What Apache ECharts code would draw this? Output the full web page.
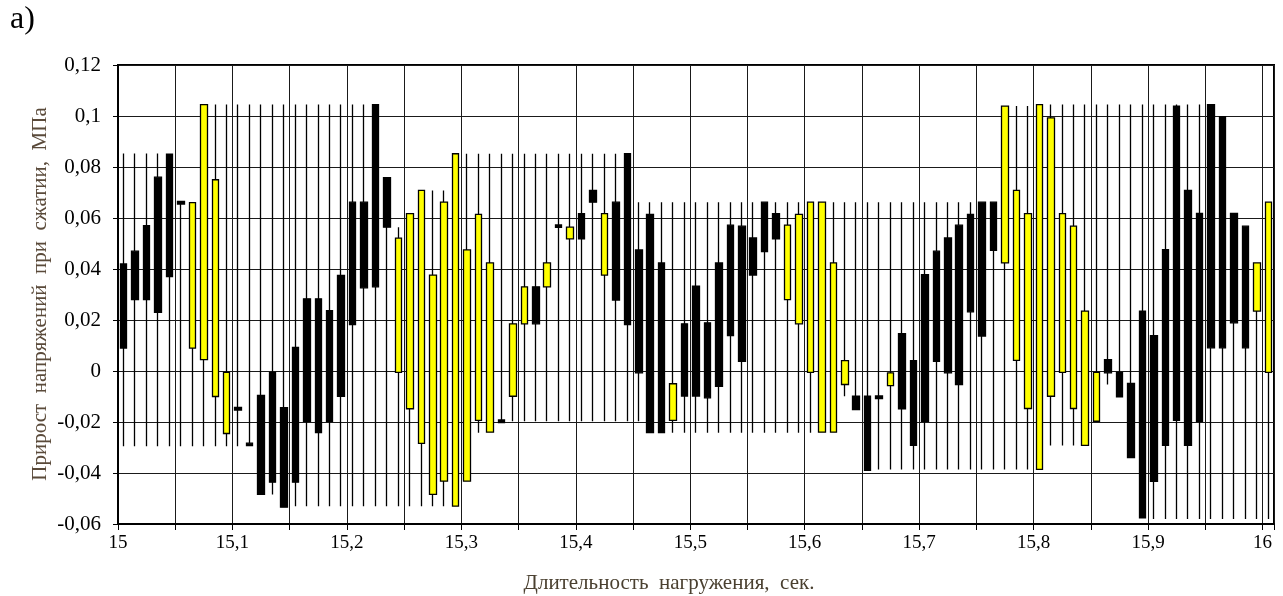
<!DOCTYPE html>
<html>
<head>
<meta charset="utf-8">
<script src="https://cdn.jsdelivr.net/npm/echarts@6/dist/echarts.min.js"></script>
<style>
  html, body { margin: 0; padding: 0; background: #fff; }
  #chart { width: 1283px; height: 596px; }
</style>
</head>
<body>
<div id="chart"></div>
<script>
// Loading time, s (one candle per 0.01 s)
const times = [
  15.00, 15.01, 15.02, 15.03, 15.04, 15.05, 15.06, 15.07, 15.08, 15.09,
  15.10, 15.11, 15.12, 15.13, 15.14, 15.15, 15.16, 15.17, 15.18, 15.19,
  15.20, 15.21, 15.22, 15.23, 15.24, 15.25, 15.26, 15.27, 15.28, 15.29,
  15.30, 15.31, 15.32, 15.33, 15.34, 15.35, 15.36, 15.37, 15.38, 15.39,
  15.40, 15.41, 15.42, 15.43, 15.44, 15.45, 15.46, 15.47, 15.48, 15.49,
  15.50, 15.51, 15.52, 15.53, 15.54, 15.55, 15.56, 15.57, 15.58, 15.59,
  15.60, 15.61, 15.62, 15.63, 15.64, 15.65, 15.66, 15.67, 15.68, 15.69,
  15.70, 15.71, 15.72, 15.73, 15.74, 15.75, 15.76, 15.77, 15.78, 15.79,
  15.80, 15.81, 15.82, 15.83, 15.84, 15.85, 15.86, 15.87, 15.88, 15.89,
  15.90, 15.91, 15.92, 15.93, 15.94, 15.95, 15.96, 15.97, 15.98, 15.99,
  16.00
];

// Stress increment, MPa
const opens = [
  0.042, 0.047, 0.057, 0.076, 0.085, 0.0665, 0.009, 0.0045, -0.010, -0.0245,
  -0.0143, -0.0283, -0.0096, -0.0005, -0.0144, 0.0093, 0.0283, 0.0283, 0.0237, 0.0375,
  0.0662, 0.0662, 0.1045, 0.0758, -0.0005, -0.0148, -0.0284, -0.0484, -0.0432, -0.053,
  -0.0432, -0.0194, -0.024, -0.0192, -0.0099, 0.0185, 0.033, 0.033, 0.0573, 0.0518,
  0.0617, 0.0708, 0.0376, 0.0662, 0.0852, 0.0475, 0.0614, 0.0424, -0.0194, 0.0185,
  0.0333, 0.0189, 0.0424, 0.0572, 0.0568, 0.0522, 0.0662, 0.0617, 0.028, 0.0185,
  -0.0005, -0.024, -0.024, -0.0053, -0.0099, -0.0099, -0.0098, -0.0057, 0.0146, 0.0041,
  0.0378, 0.047, 0.0522, 0.0572, 0.0614, 0.0662, 0.0662, 0.0424, 0.0042, -0.0147,
  -0.0386, -0.0099, -0.0005, -0.0147, -0.0292, -0.0197, 0.0045, -0.0005, -0.0049, 0.0235,
  0.0139, 0.0476, 0.1039, 0.0708, 0.0618, 0.1045, 0.0997, 0.0618, 0.0568, 0.0235,
  -0.0005
];
const closes = [
  0.009, 0.028, 0.028, 0.023, 0.037, 0.0655, 0.066, 0.1045, 0.075, -0.0005,
  -0.0153, -0.0293, -0.0484, -0.0436, -0.0534, -0.0436, -0.0197, -0.0242, -0.0197, -0.0099,
  0.0182, 0.0326, 0.033, 0.0564, 0.0521, 0.0617, 0.0708, 0.0376, 0.0662, 0.0852,
  0.0475, 0.0614, 0.0424, -0.0202, 0.0185, 0.033, 0.0185, 0.0424, 0.0563, 0.0564,
  0.0518, 0.0662, 0.0617, 0.0278, 0.0182, -0.0007, -0.0242, -0.0242, -0.005, -0.0098,
  -0.0098, -0.0105, -0.006, 0.0139, 0.0038, 0.0376, 0.0468, 0.0518, 0.0572, 0.0614,
  0.0662, 0.0662, 0.0424, 0.0041, -0.0151, -0.039, -0.0108, -0.0007, -0.0148, -0.0292,
  -0.0197, 0.0038, -0.0007, -0.0053, 0.0232, 0.0137, 0.0473, 0.1039, 0.0708, 0.0617,
  0.1045, 0.0993, 0.0617, 0.0568, 0.0235, -0.0005, -0.0007, -0.0101, -0.034, -0.0576,
  -0.0433, -0.0292, -0.0194, -0.0292, -0.0197, 0.0091, 0.0091, 0.0189, 0.0091, 0.0424,
  0.0662
];
const lows = [
  -0.0295, -0.0295, -0.0295, -0.0295, -0.0295, -0.0295, -0.0295, -0.0295, -0.0295, -0.0295,
  -0.0295, -0.0293, -0.0484, -0.0484, -0.0534, -0.053, -0.053, -0.053, -0.053, -0.053,
  -0.053, -0.053, -0.053, -0.053, -0.053, -0.053, -0.053, -0.053, -0.053, -0.053,
  -0.0432, -0.0242, -0.024, -0.0202, -0.0197, -0.0197, -0.0197, -0.0197, -0.0197, -0.0197,
  -0.0197, -0.0197, -0.0197, -0.0197, -0.0197, -0.0197, -0.0242, -0.0242, -0.0242, -0.0242,
  -0.0242, -0.0242, -0.0242, -0.0242, -0.0242, -0.0242, -0.0242, -0.0242, -0.0242, -0.0242,
  -0.0242, -0.0242, -0.0242, -0.0099, -0.0151, -0.039, -0.0386, -0.0386, -0.0386, -0.0386,
  -0.0386, -0.0386, -0.0386, -0.0386, -0.0386, -0.0386, -0.0386, -0.0386, -0.0386, -0.0386,
  -0.0386, -0.0292, -0.0292, -0.0292, -0.0292, -0.0197, -0.0053, -0.0101, -0.034, -0.0576,
  -0.058, -0.058, -0.058, -0.058, -0.058, -0.058, -0.058, -0.058, -0.058, -0.058,
  -0.058
];
const highs = [
  0.0853, 0.0853, 0.0853, 0.0853, 0.0853, 0.0665, 0.066, 0.1045, 0.1045, 0.1045,
  0.1045, 0.1045, 0.1045, 0.1045, 0.1045, 0.1045, 0.1045, 0.1045, 0.1045, 0.1045,
  0.1045, 0.1045, 0.1045, 0.0758, 0.0564, 0.0617, 0.0708, 0.0708, 0.0708, 0.0852,
  0.0852, 0.0852, 0.0852, 0.0852, 0.0852, 0.0852, 0.0852, 0.0852, 0.0852, 0.0852,
  0.0852, 0.0852, 0.0852, 0.0852, 0.0852, 0.0662, 0.0662, 0.0662, 0.0662, 0.0662,
  0.0662, 0.0662, 0.0662, 0.0662, 0.0662, 0.0662, 0.0662, 0.0662, 0.0662, 0.0662,
  0.0662, 0.0662, 0.0662, 0.0662, 0.0662, 0.0662, 0.0662, 0.0662, 0.0662, 0.0662,
  0.0662, 0.0662, 0.0662, 0.0662, 0.0662, 0.0662, 0.0662, 0.1039, 0.1039, 0.1039,
  0.1045, 0.1045, 0.1045, 0.1045, 0.1045, 0.1045, 0.1045, 0.1045, 0.1045, 0.1045,
  0.1045, 0.1045, 0.1045, 0.1045, 0.1045, 0.1045, 0.0997, 0.0618, 0.0568, 0.0424,
  0.0662
];

const yTicks = { min: -0.06, max: 0.12, step: 0.02 };
const xStep = 0.01;     // spacing of the time samples
const xGridStep = 0.05; // vertical grid spacing

const fmtComma = v => {
  const r = Math.round(v * 1000) / 1000;
  return r === 0 ? '0' : String(r).replace('.', ',');
};

const candles = times.map((t, i) => [opens[i], closes[i], lows[i], highs[i]]);

const serif = '"Liberation Serif", "Times New Roman", serif';
const chart = echarts.init(document.getElementById('chart'), null, { renderer: 'canvas' });

chart.setOption({
  animation: false,
  backgroundColor: '#fff',
  grid: {
    left: 118, right: 9, top: 65, bottom: 72,
    show: true, borderColor: '#000', borderWidth: 2,
    outerBoundsMode: 'none'
  },
  xAxis: [
    {
      // time scale with labels and grid at the sample boundaries
      type: 'value',
      min: times[0],
      max: times[0] + times.length * xStep,
      interval: xGridStep,
      position: 'bottom',
      axisLine: { show: true, onZero: false, lineStyle: { color: '#000', width: 2 } },
      axisTick: { show: true, length: 6, lineStyle: { color: '#000', width: 1 } },
      axisLabel: {
        color: '#000', fontFamily: serif, fontSize: 19, margin: 10,
        formatter: v => (Math.round(v * 100) % 10 === 0 ? fmtComma(v) : '')
      },
      splitLine: { show: true, lineStyle: { color: '#1a1a1a', width: 1 } }
    },
    {
      // one band per sample for the candles
      type: 'category',
      data: times.map(String),
      boundaryGap: true,
      show: false,
      axisLine: { onZero: false }
    }
  ],
  yAxis: {
    type: 'value',
    min: yTicks.min, max: yTicks.max, interval: yTicks.step,
    axisLine: { show: true, onZero: false, lineStyle: { color: '#000', width: 2 } },
    axisTick: { show: true, length: 5, lineStyle: { color: '#000', width: 1 } },
    axisLabel: { color: '#000', fontFamily: serif, fontSize: 21, margin: 17, formatter: fmtComma },
    splitLine: { show: true, lineStyle: { color: '#1a1a1a', width: 1 } }
  },
  series: [{
    type: 'candlestick',
    xAxisIndex: 1,
    yAxisIndex: 0,
    data: candles,
    barWidth: 7,
    itemStyle: {
      color: '#ffff00',
      color0: '#000000',
      borderColor: '#000000',
      borderColor0: '#000000',
      borderWidth: 1.3
    },
    emphasis: { disabled: true }
  }],
  graphic: [
    {
      type: 'text', left: 10, top: 4,
      style: { text: 'a)', font: '32px ' + serif, fill: '#000' }
    },
    {
      type: 'text', x: 40, y: 294, rotation: Math.PI / 2,
      style: {
        text: 'Прирост  напряжений  при  сжатии,  МПа',
        font: '21px ' + serif, fill: '#5a4a3a',
        align: 'center', verticalAlign: 'middle'
      }
    },
    {
      type: 'text', x: 669, y: 583,
      style: {
        text: 'Длительность  нагружения,  сек.',
        font: '21px ' + serif, fill: '#4a4030',
        align: 'center', verticalAlign: 'middle'
      }
    }
  ]
});
</script>
</body>
</html>
